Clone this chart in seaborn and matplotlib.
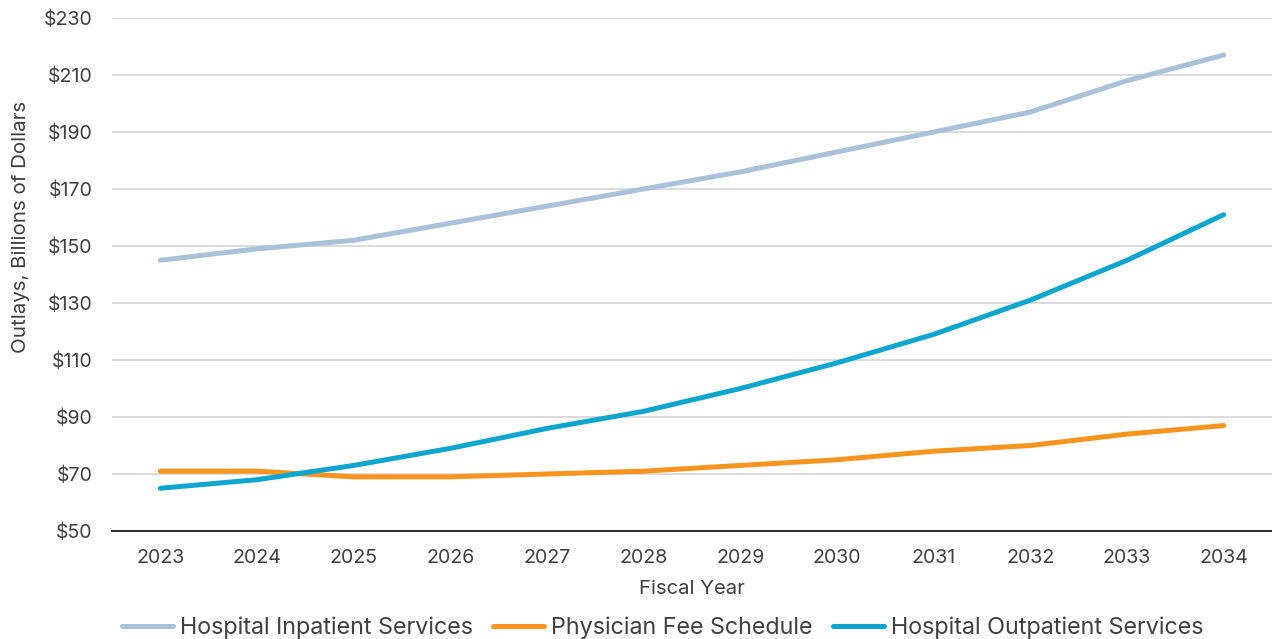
import matplotlib
matplotlib.use("Agg")
import matplotlib.pyplot as plt
import seaborn as sns
import pandas as pd

years = ["2023", "2024", "2025", "2026", "2027", "2028", "2029", "2030", "2031", "2032", "2033", "2034"]
inpatient = [145, 149, 152, 158, 164, 170, 176, 183, 190, 197, 208, 217]
physician = [71, 71, 69, 69, 70, 71, 73, 75, 78, 80, 84, 87]
outpatient = [65, 68, 73, 79, 86, 92, 100, 109, 119, 131, 145, 161]
series_names = ["Hospital Inpatient Services", "Physician Fee Schedule", "Hospital Outpatient Services"]
y_ticks = [50, 70, 90, 110, 130, 150, 170, 190, 210, 230]

rows = []
for name, vals in zip(series_names, [inpatient, physician, outpatient]):
    for i, v in enumerate(vals):
        rows.append({"idx": i, "value": v, "series": name})
df = pd.DataFrame(rows)

sns.set_theme(style="white")
plt.rcParams["font.family"] = ["Inter", "DejaVu Sans"]
text_color = "#404040"

fig = plt.figure(figsize=(12.72, 6.39), dpi=100)
ax = fig.add_axes([112/1272, 1 - 531/639, 1 - 112/1272, (531 - 18)/639])

palette = {series_names[0]: "#A9C1DA", series_names[1]: "#F7941D", series_names[2]: "#0EA5CF"}
sns.lineplot(data=df, x="idx", y="value", hue="series", palette=palette, linewidth=3.6,
             ax=ax, legend=True, solid_capstyle="round")

ax.set_xlim(-0.5, len(years) - 0.5)
ax.set_ylim(50, 230)
ax.set_yticks(y_ticks)
ax.set_yticklabels([f"${t}" for t in y_ticks])
ax.set_xticks(range(len(years)))
ax.set_xticklabels(years)
ax.tick_params(axis="both", length=0, labelsize=14.1, labelcolor=text_color)
ax.tick_params(axis="x", pad=13)
ax.tick_params(axis="y", pad=14)
ax.yaxis.grid(True, color="#D9D9D9", linewidth=1.3)
ax.set_axisbelow(True)
for s in ["top", "right", "left"]:
    ax.spines[s].set_visible(False)
ax.spines["bottom"].set_color("#333333")
ax.spines["bottom"].set_linewidth(1.5)
ax.spines["bottom"].set_zorder(5)

ax.set_xlabel("Fiscal Year", fontsize=14.6, color=text_color, labelpad=9)
ax.set_ylabel("Outlays, Billions of Dollars", fontsize=14.8, color=text_color)
ax.yaxis.set_label_coords(-(112 - 30) / 1160, (531 - 227) / 513)

handles, labels = ax.get_legend_handles_labels()
leg = ax.legend(handles, labels, loc="center", bbox_to_anchor=(0.5 - 29.5/1160, -0.189),
                ncol=3, frameon=False, fontsize=16.8, handlelength=2.2, handletextpad=0.3,
                columnspacing=0.85, labelcolor=text_color)
for line in leg.get_lines():
    line.set_linewidth(3.6)
    line.set_solid_capstyle("round")

fig.savefig("out.png", dpi=100)
